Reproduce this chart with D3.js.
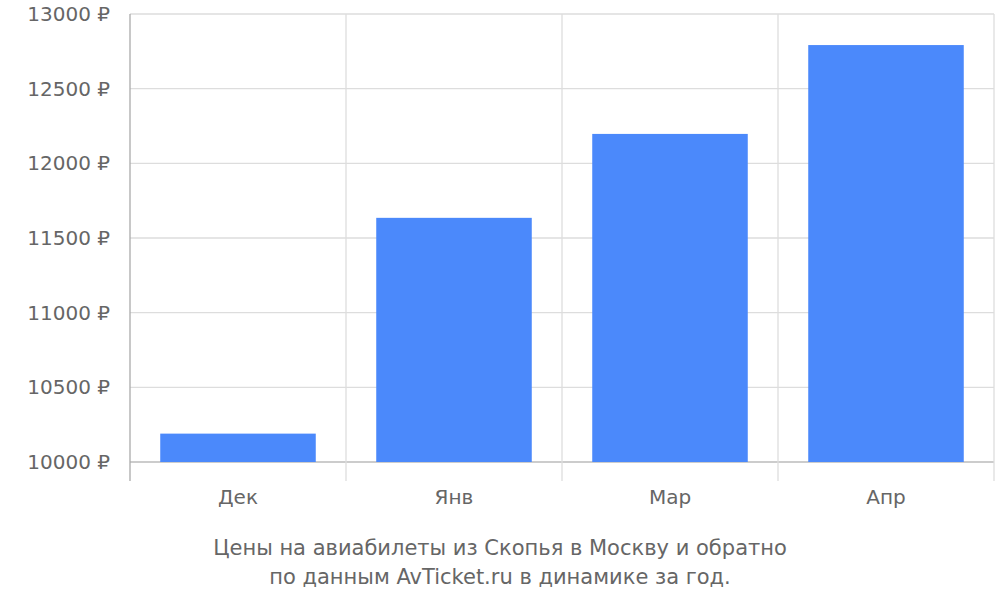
<!DOCTYPE html>
<html><head><meta charset="utf-8">
<script src="https://cdn.jsdelivr.net/npm/d3@7"></script>
<style>body{margin:0;background:#fff}text{font-family:"DejaVu Sans",sans-serif;fill:#666}</style>
</head><body>
<svg id="c" width="1000" height="600"></svg>
<script>
const categories = ["Дек","Янв","Мар","Апр"];
const values = [10190, 11635, 12197, 12792];
const yTicks = [10000,10500,11000,11500,12000,12500,13000];
const titleLines = ["Цены на авиабилеты из Скопья в Москву и обратно","по данным AvTicket.ru в динамике за год."];

const svg = d3.select("#c");
const L=130,R=994,T=14,B=462;
const x = d3.scaleBand().domain(categories).range([L,R]).paddingInner(0.28).paddingOuter(0.14);
const xb = d3.scaleBand().domain(categories).range([L,R]);
const y = d3.scaleLinear().domain([10000,13000]).range([B,T]);

yTicks.forEach(t=>{
  svg.append("line").attr("x1",L).attr("x2",R).attr("y1",y(t)).attr("y2",y(t))
    .attr("stroke", t===10000?"#bbb":"#ddd").attr("stroke-width",1.3);
  svg.append("text").attr("x",L-20).attr("y",y(t)+7).attr("text-anchor","end")
    .attr("font-size",20).text(t+" ₽");
});
categories.forEach((c,i)=>{
  const xx = xb(c)+xb.bandwidth();
  svg.append("line").attr("x1",xx).attr("x2",xx).attr("y1",T).attr("y2",481)
    .attr("stroke","#ddd").attr("stroke-width",1.3);
});
svg.append("line").attr("x1",L).attr("x2",L).attr("y1",T).attr("y2",481).attr("stroke","#aaa").attr("stroke-width",1.3);

svg.selectAll("rect.bar").data(values).enter().append("rect")
  .attr("x",(d,i)=>x(categories[i])).attr("width",x.bandwidth())
  .attr("y",d=>y(d)).attr("height",d=>B-y(d)).attr("fill","#4b89fb");

categories.forEach(c=>{
  svg.append("text").attr("x",xb(c)+xb.bandwidth()/2).attr("y",504).attr("text-anchor","middle")
    .attr("font-size",20).text(c);
});
titleLines.forEach((t,i)=>{
  svg.append("text").attr("x",500).attr("y",555+i*29).attr("text-anchor","middle")
    .attr("font-size",21).text(t);
});
</script>
</body></html>
